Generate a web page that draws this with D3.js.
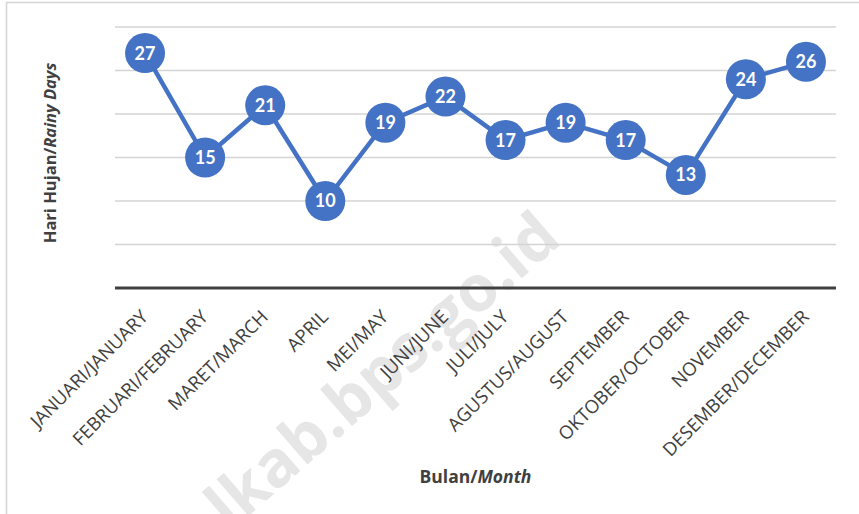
<!DOCTYPE html>
<html>
<head>
<meta charset="utf-8">
<script src="https://cdn.jsdelivr.net/npm/d3@7/dist/d3.min.js"></script>
<style>
  html, body { margin: 0; padding: 0; background: #fff; }
  svg { display: block; }
</style>
</head>
<body>
<svg id="chart" width="859" height="514"></svg>
<script>
// ── Data ─────────────────────────────────────────────────────────────────────
const months = [
  'JANUARI/JANUARY', 'FEBRUARI/FEBRUARY', 'MARET/MARCH', 'APRIL', 'MEI/MAY',
  'JUNI/JUNE', 'JULI/JULY', 'AGUSTUS/AUGUST', 'SEPTEMBER', 'OKTOBER/OCTOBER',
  'NOVEMBER', 'DESEMBER/DECEMBER'
];
const rainyDays = [27, 15, 21, 10, 19, 22, 17, 19, 17, 13, 24, 26];
const gridTicks = [0, 5, 10, 15, 20, 25, 30];

// ── Layout ───────────────────────────────────────────────────────────────────
const W = 859, H = 514;
const plot = { left: 115, right: 836, top: 27, bottom: 288 };
const blue = '#4472C4';
const sans = "'Open Sans', sans-serif";

const svg = d3.select('#chart');

// outer frame
svg.append('rect')
  .attr('x', 6.5).attr('y', 2.5)
  .attr('width', W).attr('height', H + 10)
  .attr('fill', '#fff')
  .attr('stroke', '#d4d4d4').attr('stroke-width', 1.5);

// watermark (partly cut by the bottom edge, as in the source)
svg.append('text')
  .attr('transform', 'translate(230,532) rotate(-41)')
  .attr('font-family', sans)
  .attr('font-weight', 700)
  .attr('font-size', 64)
  .attr('fill', '#e6e6e6')
  .text('lkab.bps.go.id');

const x = d3.scaleBand()
  .domain(months)
  .range([plot.left, plot.right]);

const y = d3.scaleLinear()
  .domain([0, 30])
  .range([plot.bottom, plot.top]);

// gridlines
svg.append('g')
  .selectAll('line')
  .data(gridTicks.filter(d => d > 0))
  .join('line')
  .attr('x1', plot.left).attr('x2', plot.right)
  .attr('y1', d => y(d)).attr('y2', d => y(d))
  .attr('stroke', '#d4d4d4')
  .attr('stroke-width', 1.5);

// x axis
const xAxis = svg.append('g')
  .attr('transform', `translate(0,${plot.bottom})`)
  .call(d3.axisBottom(x).tickSize(0).tickPadding(0));

xAxis.select('.domain')
  .attr('d', `M${plot.left},0H${plot.right}`)
  .attr('stroke', '#404040')
  .attr('stroke-width', 3);

xAxis.selectAll('.tick text')
  .attr('font-family', sans)
  .attr('font-size', 18.5)
  .attr('fill', '#404040')
  .attr('text-anchor', 'end')
  .attr('dy', 0)
  .attr('transform', 'translate(4,30) rotate(-45)');

// axis titles
svg.append('text')
  .attr('transform', 'translate(56,153) rotate(-90)')
  .attr('text-anchor', 'middle')
  .attr('font-family', sans)
  .attr('font-weight', 700)
  .attr('font-size', 16.5)
  .attr('fill', '#404040')
  .call(t => {
    t.append('tspan').text('Hari Hujan/');
    t.append('tspan').attr('font-style', 'italic').text('Rainy Days');
  });

svg.append('text')
  .attr('x', (plot.left + plot.right) / 2)
  .attr('y', 483)
  .attr('text-anchor', 'middle')
  .attr('font-family', sans)
  .attr('font-weight', 700)
  .attr('font-size', 17.5)
  .attr('fill', '#404040')
  .call(t => {
    t.append('tspan').text('Bulan/');
    t.append('tspan').attr('font-style', 'italic').text('Month');
  });

// line + markers
const pts = months.map((m, i) => ({ m, v: rainyDays[i] }));
const cx = d => x(d.m) + x.bandwidth() / 2;

svg.append('path')
  .datum(pts)
  .attr('fill', 'none')
  .attr('stroke', blue)
  .attr('stroke-width', 4.5)
  .attr('stroke-linejoin', 'round')
  .attr('d', d3.line().x(cx).y(d => y(d.v)));

const marks = svg.append('g')
  .selectAll('g')
  .data(pts)
  .join('g')
  .attr('transform', d => `translate(${cx(d)},${y(d.v)})`);

marks.append('circle')
  .attr('r', 20)
  .attr('fill', blue);

marks.append('text')
  .attr('text-anchor', 'middle')
  .attr('dy', '0.36em')
  .attr('font-family', 'Lato, sans-serif')
  .attr('font-weight', 700)
  .attr('font-size', 18)
  .attr('fill', '#fff')
  .text(d => d.v);
</script>
</body>
</html>
